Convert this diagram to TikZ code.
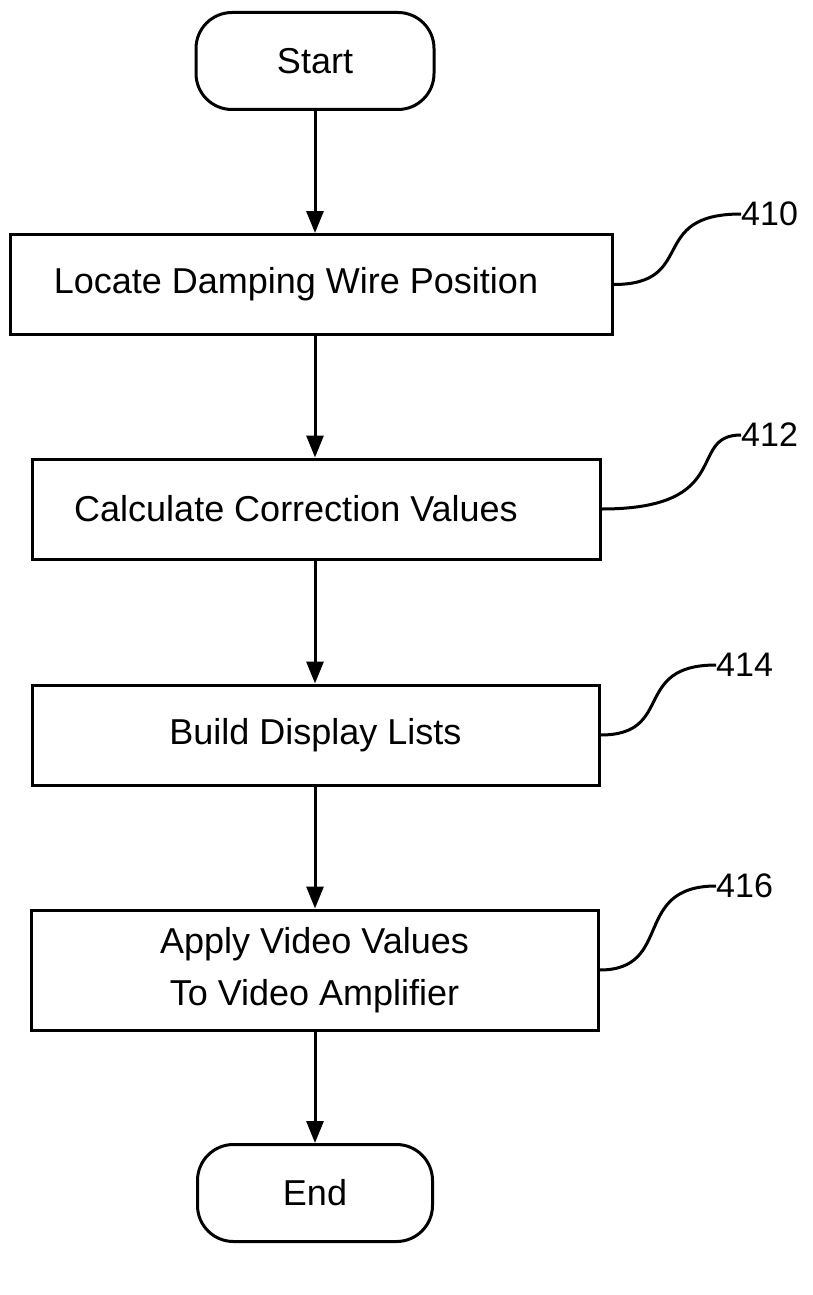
\documentclass[tikz,border=0pt]{standalone}
\usepackage{fontspec}
\setmainfont{Liberation Sans}
\usetikzlibrary{arrows.meta}
\usetikzlibrary{positioning}

\begin{document}
\begin{tikzpicture}[x=1pt, y=1pt, >={Triangle[length=22pt, width=17pt]},
    every node/.style={font=\fontsize{36}{52}\selectfont},
    stepbox/.style={draw, line width=3pt, minimum width=#1, minimum height=100pt, inner sep=0pt, align=center},
    termbox/.style={draw, line width=3pt, rounded corners=36pt, minimum width=238pt, minimum height=97pt},
    refnum/.style={anchor=west, inner sep=0pt, font=\fontsize{34}{40}\selectfont},
    flow/.style={->, line width=3pt},
    leader/.style={line width=3pt}]

    \useasboundingbox (0,0) rectangle (813,-1295);

    % terminals and steps
    \node[termbox] (start) at (315,-61) {Start};
    \node[stepbox=602pt] (locate) at (311,-284.5) {\hspace*{-30pt}Locate Damping Wire Position};
    \node[stepbox=568pt] (calc) at (316,-509) {\hspace*{-40pt}Calculate Correction Values};
    \node[stepbox=567pt] (build) at (315.5,-735) {Build Display Lists};
    \node[stepbox=567pt, minimum height=120pt] (apply) at (314.5,-970) {Apply Video Values\\To Video Amplifier};
    \node[termbox, minimum width=235pt] (end) at (315,-1193) {End};

    \draw[flow] (start.south) -- (start.south |- locate.north);
    \draw[flow] (start.south |- locate.south) -- (start.south |- calc.north);
    \draw[flow] (start.south |- calc.south) -- (start.south |- build.north);
    \draw[flow] (start.south |- build.south) -- (start.south |- apply.north);
    \draw[flow] (start.south |- apply.south) -- (end.north);

    % reference numerals
    \node[refnum] (r410) at (741,-214) {410};
    \node[refnum] (r412) at (741,-435) {412};
    \node[refnum] (r414) at (716,-665) {414};
    \node[refnum] (r416) at (716,-886) {416};

    \draw[leader] (locate.east) .. controls +(85,0) and +(-95,0) .. (r410.west);
    \draw[leader] (calc.east) .. controls +(135,0) and +(-55,0) .. (r412.west);
    \draw[leader] (build.east) .. controls +(75,0) and +(-85,0) .. (r414.west);
    \draw[leader] (apply.east) .. controls +(75,0) and +(-85,0) .. (r416.west);

\end{tikzpicture}
\end{document}
